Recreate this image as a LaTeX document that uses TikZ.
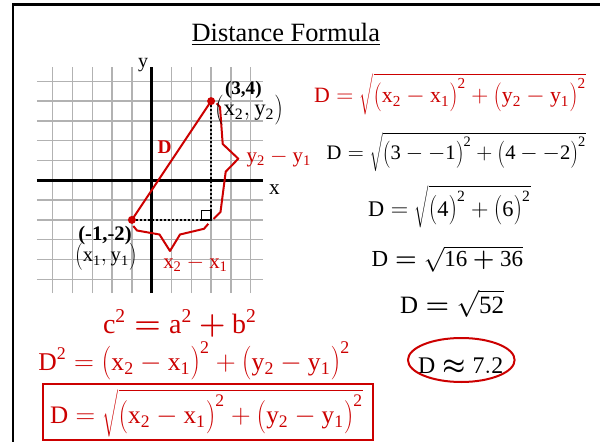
\documentclass[tikz,border=0pt]{standalone}
\usepackage{fontspec}
\setmainfont{Liberation Serif}
\usepackage{bm}
\usepackage{graphicx}
\usetikzlibrary{shapes.geometric}
\definecolor{myred}{RGB}{204,0,0}
\newcommand{\rmx}{\mathrm{x}}
\newcommand{\rmy}{\mathrm{y}}
\newcommand{\rmD}{\mathrm{D}}
\newcommand{\dg}[1]{\mathrm{#1}}
\newcommand{\sq}{^{\mathrm{2}}}
\newcommand{\beq}{\mathrel{\bm{=}}}
\newcommand{\bplus}{\mathbin{\bm{+}}}
\newcommand{\bapprox}{\mathrel{\bm{\approx}}}
\newcommand{\lpar}{\mathopen{\raisebox{-0.07em}{\scalebox{1}[1.22]{$\bigl($}}}}
\newcommand{\rpar}{\mathclose{\raisebox{-0.07em}{\scalebox{1}[1.22]{$\bigr)$}}}}
\newcommand{\fitw}[2]{\resizebox{#1}{!}{\fontsize{16}{18}\selectfont #2}}
\begin{document}
\begin{tikzpicture}[x=0.75pt,y=-0.75pt,
  lbl/.style={anchor=base west,inner sep=0pt,outer sep=0pt},
  gridline/.style={draw=black!30,line width=1.1pt},
  axisline/.style={draw=black,line width=2.2pt},
  redline/.style={draw=myred,line width=1.5pt},
  dotline/.style={draw=black,line width=1.4pt,dash pattern=on 1.4pt off 1.6pt},
  reddot/.style={circle,fill=myred,inner sep=0pt,minimum size=6pt},
  frameline/.style={draw=black,line width=2pt}]
\useasboundingbox (0,0) rectangle (600,442);
% frame
\draw[frameline] (13,442) -- (13,4.3) -- (600,4.3);
% title
\node[lbl] (title) at (191.7,41.5) {\fitw{141.2pt}{Distance Formula}};
\draw[line width=1pt] ([yshift=-2.1pt]title.base west) -- ([yshift=-2.1pt]title.base east);
% grid
\begin{scope}[shift={(151.7,180.3)},x=14.85pt,y=14.85pt]
  \foreach \i in {-5,...,5} \draw[gridline] (\i,-5.7) -- (\i,5.74);
  \foreach \j in {-5,...,5} \draw[gridline] (-5.8,\j) -- (5.62,\j);
  \draw[axisline] (-5.8,0) -- (5.62,0);
  \draw[axisline] (0,-5.7) -- (0,5.74);
  \coordinate (P1) at (-1,-2);
  \coordinate (P2) at (3,4);
  \coordinate (C) at (3,-2);
  \draw[dotline] (P1) -- (C) -- (P2);
  \draw[line width=1pt] (C) rectangle ++(-0.5,0.48);
  \draw[redline] (P1) -- (P2);
  \node[reddot] (d1) at (P1) {};
  \node[reddot] (d2) at (P2) {};
\end{scope}
% braces
\draw[redline,line join=round] (133.3,226) -- (137,230.5) -- (159.5,234.5) -- (170,251) -- (180,234.5) -- (204,228.8) -- (208.3,223.8);
\draw[redline,line join=round] (216.7,103.3) -- (220,107) -- (222.7,144) -- (238.3,158.7) -- (225.7,171.7) -- (220.5,212) -- (213.5,219);
% graph labels
\node[lbl] (ylab) at (138,67.4) {\fontsize{15}{16}\selectfont y};
\node[lbl] (xlab) at (269,195) {\fontsize{16}{17}\selectfont x};
\node[lbl,text=myred] (Dlab) at (157.7,153.3) {\resizebox{10.5pt}{!}{\fontsize{14}{15}\selectfont\bfseries D}};
\node[lbl,text=myred] (dy) at (246.7,162.4) {\fitw{48.2pt}{$\rmy_{\dg{2}}-\rmy_{\dg{1}}$}};
\node[lbl,text=myred] (dx) at (163.3,268.3) {\fitw{48.3pt}{$\rmx_{\dg{2}}-\rmx_{\dg{1}}$}};
\node[lbl] (p2a) at (225,94.3) {\fitw{27.5pt}{\bfseries (3,4)}};
\node[lbl] (p2b) at (215,116) {\fitw{51pt}{$\lpar\rmx_{\dg{2}},\rmy_{\dg{2}}\rpar$}};
\node[lbl] (p1a) at (78.3,240) {\fitw{40pt}{\bfseries (-1,-2)}};
\node[lbl] (p1b) at (75,261.7) {\fitw{46.3pt}{$\lpar\rmx_{\dg{1}},\rmy_{\dg{1}}\rpar$}};
% right formulas
\node[lbl,text=myred] (f1) at (314,102.7) {\fitw{204pt}{$\rmD=\sqrt{\lpar\rmx_{\dg{2}}-\rmx_{\dg{1}}\rpar\sq+\lpar\rmy_{\dg{2}}-\rmy_{\dg{1}}\rpar\sq}$}};
\node[lbl] (f2) at (326.7,160) {\fitw{194.5pt}{$\rmD=\sqrt{\lpar\dg{3}-{-\dg{1}}\rpar\sq+\lpar\dg{4}-{-\dg{2}}\rpar\sq}$}};
\node[lbl] (f3) at (368,216) {\fitw{122pt}{$\rmD=\sqrt{\lpar\dg{4}\rpar\sq+\lpar\dg{6}\rpar\sq}$}};
\node[lbl] (f4) at (371.7,266.7) {\fitw{113.5pt}{$\rmD\beq\sqrt{\dg{16}\bplus\dg{36}}$}};
\node[lbl] (f5) at (400,313.3) {\fitw{78pt}{$\rmD\beq\sqrt{\dg{52}}$}};
\node[lbl] (f6) at (418,373.3) {\fitw{64pt}{$\rmD\bapprox\dg{7.2}$}};
\node[draw=myred,line width=1.5pt,ellipse,minimum width=80pt,minimum height=33pt,inner sep=0pt] (e6) at (461.3,360) {};
% bottom formulas
\node[lbl,text=myred] (f7) at (103,333.3) {\fitw{115.3pt}{$\mathrm{c}\sq\beq\mathrm{a}\sq\bplus\mathrm{b}\sq$}};
\node[lbl,text=myred] (f8) at (38.3,370) {\fitw{233.8pt}{$\rmD\sq=\lpar\rmx_{\dg{2}}-\rmx_{\dg{1}}\rpar\sq+\lpar\rmy_{\dg{2}}-\rmy_{\dg{1}}\rpar\sq$}};
\node[lbl,text=myred] (f9) at (50,423.3) {\fitw{234.8pt}{$\rmD=\sqrt{\lpar\rmx_{\dg{2}}-\rmx_{\dg{1}}\rpar\sq+\lpar\rmy_{\dg{2}}-\rmy_{\dg{1}}\rpar\sq}$}};
\draw[draw=myred,line width=1.3pt] (43.3,384) rectangle (373.3,440.2);
\end{tikzpicture}
\end{document}
